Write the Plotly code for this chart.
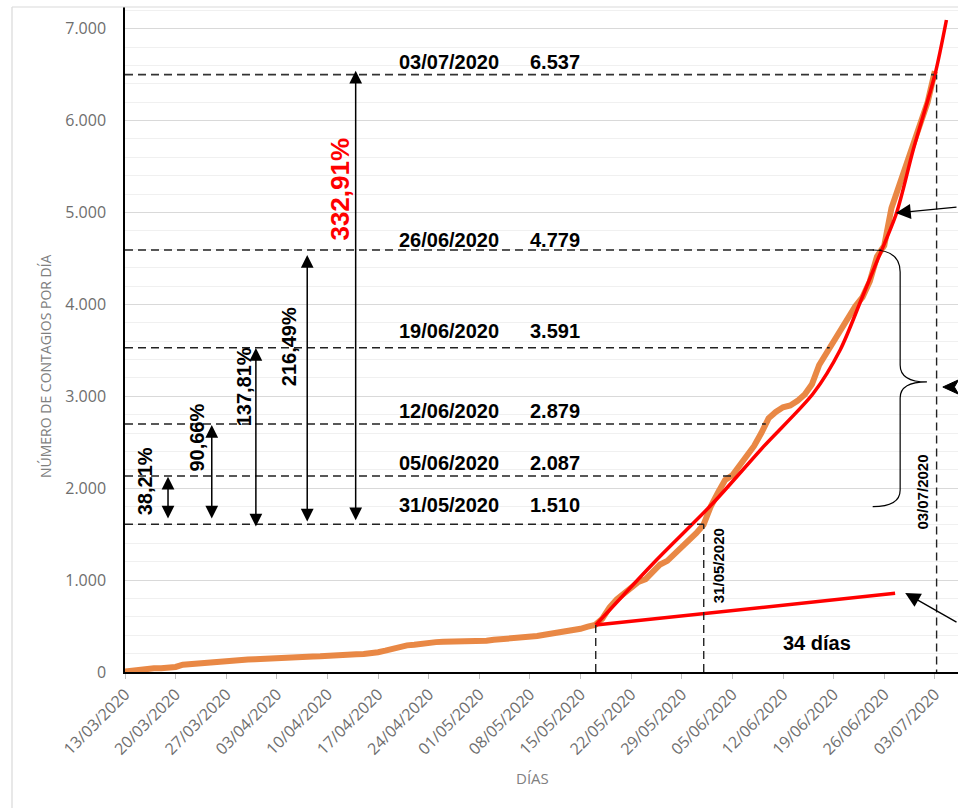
import numpy as np
import pandas as pd
import plotly.graph_objects as go

# ---------------- data ----------------
start_date = "2020-03-13"
daily_cases = [
    5, 15, 25, 38, 40, 40, 42, 55, 80, 88,
    90, 95, 108, 118, 125, 130, 133, 137, 140, 145,
    152, 158, 162, 165, 167, 168, 170, 171, 172, 173,
    176, 185, 192, 197, 203, 215, 232, 255, 283, 290,
    297, 310, 320, 325, 330, 330, 331, 331, 331, 332,
    340, 350, 355, 362, 370, 378, 384, 392, 405, 418,
    428, 440, 450, 470, 493, 511, 580, 700, 790, 850,
    930, 980, 1010, 1100, 1170, 1210, 1280, 1350, 1420, 1510,
    1600, 1800, 1950, 2090, 2140, 2250, 2350, 2460, 2600, 2760,
    2830, 2880, 2900, 2950, 3020, 3130, 3340, 3470, 3600, 3730,
    3860, 3980, 4080, 4250, 4520, 4640, 5050, 5280, 5480, 5700,
    5950, 6200, 6537,
]
tick_start = "2020-03-13"
tick_end = "2020-07-03"

# red trend curves (day offset from start, value)
fit_exp_day = [65.1, 73.5, 81.3, 88.3, 95.2, 98.9, 101.8, 103.9, 106.7, 109.0, 112.0, 113.6]
fit_exp_val = [511, 1219, 1836, 2452, 3033, 3504, 4048, 4451, 4995, 5680, 6496, 7095]
fit_lin_day = [65.1, 106.5]
fit_lin_val = [511, 856]

ref_dates = ["03/07/2020", "26/06/2020", "19/06/2020", "12/06/2020", "05/06/2020", "31/05/2020"]
ref_values = ["6.537", "4.779", "3.591", "2.879", "2.087", "1.510"]
ref_levels = [6500, 4592, 3529, 2699, 2133, 1607]

pct_labels = ["38,21%", "90,66%", "137,81%", "216,49%", "332,91%"]
pct_top = [2125, 2688, 3526, 4537, 6543]
pct_bottom = [1654, 1654, 1567, 1621, 1635]

# ---------------- helpers ----------------
t0 = pd.Timestamp(start_date)
days = np.arange(len(daily_cases))
dates = pd.date_range(start_date, periods=len(daily_cases), freq="D")


def at(d):
    return (t0 + pd.Timedelta(days=float(d))).strftime("%Y-%m-%d %H:%M:%S")


def ps(d):
    return at(d).replace(" ", "_")


def cross_day(level):
    return float(np.interp(level, daily_cases, days))


fig = go.Figure()

fig.add_trace(go.Scatter(
    x=dates, y=daily_cases, mode="lines",
    line=dict(color="#E8823C", width=6), opacity=0.95,
    showlegend=False, hoverinfo="x+y",
))
fig.add_trace(go.Scatter(
    x=[at(d) for d in fit_exp_day], y=fit_exp_val, mode="lines",
    line=dict(color="#FF0000", width=3.5, shape="spline", smoothing=0.8),
    showlegend=False,
))
fig.add_trace(go.Scatter(
    x=[at(d) for d in fit_lin_day], y=fit_lin_val, mode="lines",
    line=dict(color="#FF0000", width=3.5),
    showlegend=False,
))

shapes = []
annotations = []
dash_style = dict(color="#222222", width=1.4, dash="8px,5px")
bold = dict(family="Liberation Sans", color="black", weight="bold")

# horizontal reference lines + labels
label_shift = [13, 10, 17, 13, 13, 19]
for i, lvl in enumerate(ref_levels):
    xe = cross_day(lvl)
    shapes.append(dict(type="line", xref="x", yref="y", x0=at(0), x1=at(xe),
                       y0=lvl, y1=lvl,
                       line=dict(dash_style, color="#333333" if i == 0 else "#222222",
                                 width=1.8 if i == 0 else 1.4)))
    annotations.append(dict(x=at(44.8), y=lvl, yshift=label_shift[i], text=ref_dates[i],
                            showarrow=False, xanchor="center", yanchor="middle",
                            font=dict(bold, size=20)))
    annotations.append(dict(x=at(59.5), y=lvl, yshift=label_shift[i], text=ref_values[i],
                            showarrow=False, xanchor="center", yanchor="middle",
                            font=dict(bold, size=20)))

# vertical dashed lines
x_3105 = cross_day(ref_levels[-1])
x_0307 = cross_day(ref_levels[0]) + 0.35
shapes.append(dict(type="line", xref="x", yref="y", x0=at(x_3105), x1=at(x_3105),
                   y0=0, y1=ref_levels[-1], line=dash_style))
shapes.append(dict(type="line", xref="x", yref="y", x0=at(x_0307), x1=at(x_0307),
                   y0=-60, y1=ref_levels[0], line=dash_style))
shapes.append(dict(type="line", xref="x", yref="y", x0=at(fit_lin_day[0]), x1=at(fit_lin_day[0]),
                   y0=0, y1=fit_lin_val[0], line=dash_style))

annotations.append(dict(x=at(x_3105), y=1159, xshift=15, text="31/05/2020", textangle=-90,
                        showarrow=False, font=dict(bold, size=15)))
annotations.append(dict(x=at(x_0307), y=1959, xshift=-14, text="03/07/2020", textangle=-90,
                        showarrow=False, font=dict(bold, size=15)))
annotations.append(dict(x=at(95.7), y=316, text="34 días", showarrow=False,
                        font=dict(bold, size=20)))

# percentage arrows
arrow_day = [5.95, 12.0, 18.1, 25.2, 31.9]
text_day = [2.8, 9.9, 16.5, 22.7, 29.6]
text_val = [2078, 2546, 3101, 3536, 5250]
for i, lab in enumerate(pct_labels):
    annotations.append(dict(x=at(arrow_day[i]), y=pct_top[i], ax=0, axref="pixel",
                            ay=pct_bottom[i], ayref="y", text="", showarrow=True,
                            arrowhead=2, arrowsize=1.7, arrowwidth=1.5, arrowcolor="black",
                            arrowside="end+start", startarrowhead=2, startarrowsize=1.7,
                            standoff=0, startstandoff=0))
    red = i == len(pct_labels) - 1
    annotations.append(dict(x=at(text_day[i]), y=text_val[i], text=lab, textangle=-90, showarrow=False,
                            font=dict(bold, size=26 if red else 20,
                                      color="#FF0000" if red else "black")))

# right-hand pointer arrows
for (d, v, axp, ayp) in [(106.6, 4995, 64, -6), (107.9, 860, 55, 30)]:
    annotations.append(dict(x=at(d), y=v, ax=axp, ay=ayp, text="", showarrow=True,
                            arrowhead=2, arrowsize=2.3, arrowwidth=1.3, arrowcolor="black", standoff=0))
# arrowhead pointing at the brace (tail cut off by the chart edge)
shapes.append(dict(type="path", xref="x", yref="y",
                   path=f"M{ps(113.1)},3101 L{ps(115.3)},3180 L{ps(114.7)},3101 L{ps(115.3)},3022 Z",
                   fillcolor="black", line=dict(color="black", width=1)))

# curly brace
brace = (f"M{ps(103.4)},4592 Q{ps(107.2)},4592 {ps(107.2)},4352 "
         f"L{ps(107.2)},3341 Q{ps(107.2)},3156 {ps(110.9)},3156 "
         f"Q{ps(107.2)},3156 {ps(107.2)},2982 "
         f"L{ps(107.2)},1980 Q{ps(107.2)},1799 {ps(103.4)},1799")
shapes.append(dict(type="path", xref="x", yref="y", path=brace, line=dict(color="black", width=1.2)))

# geometry (body margin removed below, so page px == figure px)
W, H = 958, 808
L, R, T = 125, 0, 7
B = H - 672
pw, ph = W - L - R, H - T - B


def px_x(p):
    return (p - L) / pw


def px_y(p):
    return (H - B - p) / ph


# chart-area border
shapes.append(dict(type="line", xref="paper", yref="paper", x0=px_x(12), x1=px_x(12),
                   y0=1, y1=px_y(808), line=dict(color="#d9d9d9", width=1.2)))
shapes.append(dict(type="line", xref="paper", yref="paper", x0=px_x(12), x1=1,
                   y0=1, y1=1, line=dict(color="#d9d9d9", width=1.2)))

# axis titles
annotations.append(dict(xref="paper", yref="paper", x=px_x(45), y=px_y(366),
                        xanchor="center", yanchor="middle",
                        text="NÚMERO DE CONTAGIOS POR DÍA", textangle=-90, showarrow=False,
                        font=dict(family="Open Sans", size=14, color="#7f7f7f")))
annotations.append(dict(xref="paper", yref="paper", x=px_x(532), y=px_y(778),
                        xanchor="center", yanchor="middle", text="DÍAS",
                        showarrow=False, font=dict(family="Open Sans", size=15, color="#7f7f7f")))

y_top = (672 - T) / 91.9 * 1000

fig.update_layout(
    width=W, height=H, autosize=False,
    margin=dict(l=L, r=R, t=T, b=B, pad=0),
    paper_bgcolor="white", plot_bgcolor="white",
    separators=",.",
    shapes=shapes, annotations=annotations,
    showlegend=False,
)
fig.update_xaxes(
    type="date", range=[at(0), at(115.2)],
    tickvals=pd.date_range(tick_start, tick_end, freq="7D"),
    tickformat="%d/%m/%Y", tickangle=-45,
    tickfont=dict(family="Open Sans", size=16, color="#6e6e6e"),
    showgrid=False, showline=True, linecolor="black", linewidth=1.5,
    ticks="outside", ticklen=5, tickcolor="#bfbfbf", zeroline=False,
)
fig.update_yaxes(
    range=[0, y_top], dtick=1000, tickformat=",d",
    tickfont=dict(family="Open Sans", size=16, color="#6e6e6e"),
    showgrid=True, gridcolor="#d9d9d9", gridwidth=1,
    minor=dict(dtick=200, showgrid=True, gridcolor="#f0f0f0", gridwidth=1),
    showline=True, linecolor="black", linewidth=1.5, zeroline=False,
    ticks="", ticklabelstandoff=14,
)

fig.write_html(
    "out.html",
    config={"displayModeBar": False},
    post_script="document.body.style.margin='0';document.documentElement.style.overflow='hidden';",
)
